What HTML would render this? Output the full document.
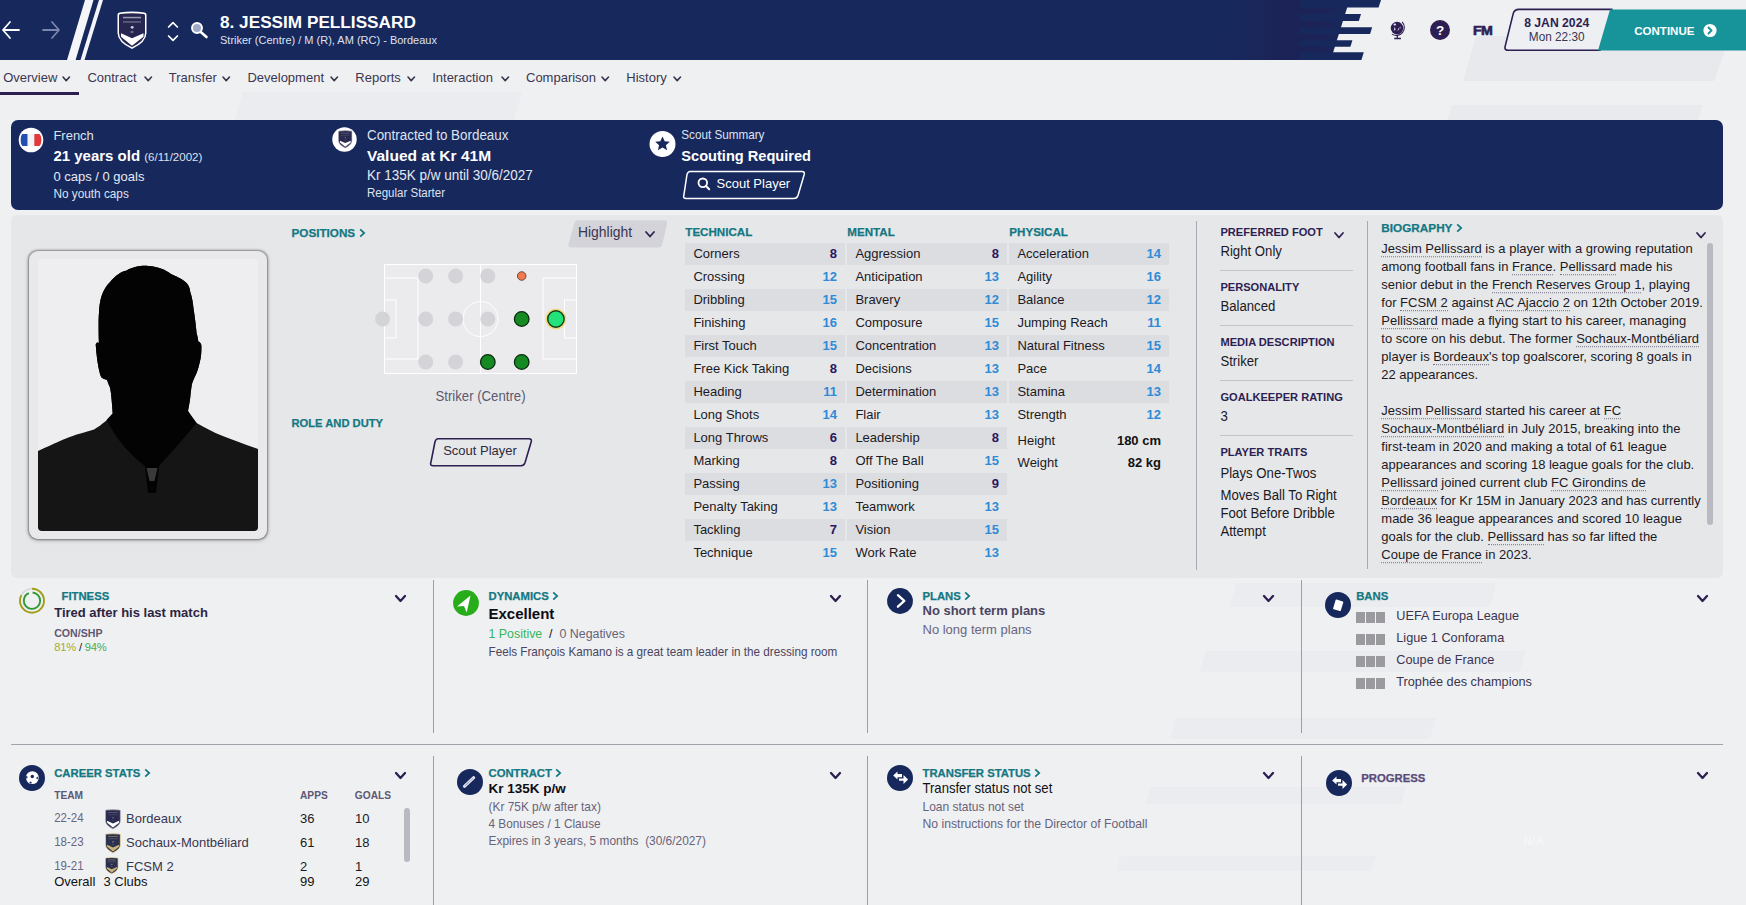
<!DOCTYPE html>
<html><head><meta charset="utf-8"><title>Player Overview</title><style>
*{margin:0;padding:0;box-sizing:border-box}
html,body{width:1746px;height:905px;overflow:hidden}
body{background:#eff0f2;font-family:"Liberation Sans",sans-serif;position:relative}
.t{position:absolute;white-space:nowrap;line-height:1}
.r{position:absolute}
.a{position:absolute;overflow:visible}
.u{border-bottom:1px dotted #77748a;}
</style></head>
<body>
<svg class="a" style="left:0px;top:0px;" width="1746" height="905" viewBox="0 0 1746 905"><polygon points="1476,36 1730,36 1714,81 1463,81" fill="#e8e9ec"/><polygon points="1452,105 1703,105 1698,120 1447,120" fill="#e9eaed"/><polygon points="243,92 522,92 514,120 235,120" fill="#ebecef"/><polygon points="1236,583 1496,583 1490,607 1230,607" fill="#ebecef"/><polygon points="1206,651 1526,651 1520,672 1200,672" fill="#ebecef"/><polygon points="1176,718 1436,718 1430,739 1170,739" fill="#ebecef"/><polygon points="1151,787 1406,787 1401,804 1146,804" fill="#ebecef"/><polygon points="1121,856 1376,856 1371,871 1116,871" fill="#ebecef"/></svg>
<svg class="a" style="left:0px;top:0px;" width="1746" height="60" viewBox="0 0 1746 60"><polygon points="0,0 1349.5,0 1330.6,60 0,60" fill="#17285c"/><defs><linearGradient id="hg" x1="0" x2="1" y1="0" y2="0"><stop offset="0" stop-color="#1b285d" stop-opacity="0"/><stop offset="0.45" stop-color="#1c2356" stop-opacity="0.9"/><stop offset="0.8" stop-color="#1c2356" stop-opacity="0.9"/><stop offset="1" stop-color="#1c2356" stop-opacity="0"/></linearGradient></defs><polygon points="1225,0 1349.5,0 1330.6,60 1215,60" fill="url(#hg)"/><polygon points="1300,0 1381,0 1378.6,7.5 1300,7.5" fill="#17285c"/><polygon points="1300,14 1361,14 1358.8,21 1300,21" fill="#17285c"/><polygon points="1300,27.2 1372.2,27.2 1370.1,34 1300,34" fill="#17285c"/><polygon points="1300,40.3 1352.4,40.3 1350.4,46.8 1300,46.8" fill="#17285c"/><polygon points="1300,52.3 1363.8,52.3 1361.4,60 1300,60" fill="#17285c"/><polygon points="85,0 93.5,0 75.6,60 67,60" fill="#f4f5f8"/><polygon points="99,0 103,0 84.5,60 80.5,60" fill="#f4f5f8"/></svg>
<svg class="a" style="left:0px;top:18px;" width="64" height="24" viewBox="0 0 64 24"><path d="M3,12 L19,12 M10,4 L3,12 L10,20" fill="none" stroke="#ffffff" stroke-width="1.8" stroke-linecap="round" stroke-linejoin="round"/><path d="M43,12 L59,12 M52,4 L59,12 L52,20" fill="none" stroke="#7c85ad" stroke-width="1.8" stroke-linecap="round" stroke-linejoin="round"/></svg>
<svg class="a" style="left:117px;top:11px;" width="31" height="40" viewBox="0 0 31 40"><g transform="scale(1.0)"><path d="M0.5,3.5 Q0.5,1.8 2.5,1.5 Q15,-0.4 27.5,1.5 Q29.5,1.8 29.5,3.5 L29.5,22 Q29.5,31 15,38 Q0.5,31 0.5,22 Z" fill="#ffffff"/><path d="M2,4.2 Q2,3.2 3.3,3 Q15,1.3 26.7,3 Q28,3.2 28,4.2 L28,22 Q28,30 15,36.3 Q2,30 2,22 Z" fill="#262650"/><rect x="6" y="5.8" width="18" height="1.5" fill="#ffffff" opacity="0.55"/><rect x="6" y="10.3" width="18" height="1.3" fill="#ffffff" opacity="0.35"/><circle cx="15.2" cy="16.3" r="1.4" fill="#ffffff" opacity="0.8"/><ellipse cx="15" cy="21" rx="1.8" ry="0.7" fill="#ffffff" opacity="0.5"/><path d="M4,22.3 L15,27.2 L26.5,22.3 L26.5,25.8 L15,34.8 L4,25.8 Z" fill="#ffffff"/></g></svg>
<svg class="a" style="left:165px;top:18px;" width="16" height="26" viewBox="0 0 16 26"><path d="M3.6,9 L8,4.6 L12.4,9 M3.6,18 L8,22.4 L12.4,18" fill="none" stroke="#ffffff" stroke-width="1.7" stroke-linecap="round" stroke-linejoin="round"/></svg>
<svg class="a" style="left:188px;top:19px;" width="24" height="24" viewBox="0 0 24 24"><circle cx="9" cy="9" r="5" fill="#a3a9c9" stroke="#ffffff" stroke-width="1.9"/><path d="M13,13.2 L18.5,18" stroke="#ffffff" stroke-width="2.6" stroke-linecap="round"/></svg>
<div class="t" style="left:220.0px;top:14.4px;font-size:17.2px;font-weight:700;color:#ffffff;">8. JESSIM PELLISSARD</div>
<div class="t" style="left:220.0px;top:34.6px;font-size:11px;font-weight:400;color:#dfe2f0;transform:scaleY(1.05);transform-origin:0 9.31px;">Striker (Centre) / M (R), AM (RC) - Bordeaux</div>
<svg class="a" style="left:1388px;top:19px;" width="20" height="22" viewBox="0 0 20 22"><circle cx="9" cy="9.1" r="6.3" fill="#2d1f52"/><ellipse cx="6.8" cy="5.5" rx="1.3" ry="1.1" fill="#e6e0f2"/><path d="M5.8,11.5 L6.8,7.8 L7.6,11 Z M9.5,12.3 L11.2,10 L10.4,9 Z M12,10.5 L12.6,7.6 L11.6,8.4 Z" fill="#e6e0f2"/><path d="M14.1,2.9 A8,8 0 0 1 3.9,15.1" stroke="#2d1f52" stroke-width="1.1" fill="none"/><path d="M9.3,16.6 L9.3,19.3 M6.2,19.5 L12.9,19.5" stroke="#2d1f52" stroke-width="1.3"/></svg>
<svg class="a" style="left:1429px;top:19px;" width="22" height="22" viewBox="0 0 22 22"><circle cx="11" cy="11" r="10" fill="#2d1f52"/></svg>
<div class="t" style="left:1040.0px;width:800px;text-align:center;top:23.6px;font-size:13.5px;font-weight:700;color:#ffffff;">?</div>
<div class="t" style="left:1472.6px;top:24.8px;font-size:12px;font-weight:700;color:#2d1f52;transform:scaleX(1.18);transform-origin:0 0;-webkit-text-stroke:0.6px #2d1f52;letter-spacing:-0.5px;">FM</div>
<svg class="a" style="left:1500px;top:8px;" width="246" height="44" viewBox="0 0 246 44"><path d="M19,1.4 L112,1.4 L100,42.3 L8.5,42.3 Q4.2,42.3 5.1,38.6 L13.2,5.6 Q14.3,1.4 19,1.4 Z" fill="#eeeff2" stroke="#2d1f52" stroke-width="1.6" stroke-linejoin="round"/><polygon points="110,1.4 246,1.4 246,42.4 98,42.4" fill="#17939a"/></svg>
<div class="t" style="left:1156.7px;width:800px;text-align:center;top:16.5px;font-size:12.2px;font-weight:700;color:#2d1f52;">8 JAN 2024</div>
<div class="t" style="left:1156.7px;width:800px;text-align:center;top:31.9px;font-size:11.8px;font-weight:400;color:#3a3550;transform:scaleY(1.05);transform-origin:0 9.99px;">Mon 22:30</div>
<div class="t" style="left:1634.3px;top:26.3px;font-size:11.5px;font-weight:700;color:#ffffff;">CONTINUE</div>
<svg class="a" style="left:1702px;top:23px;" width="16" height="16" viewBox="0 0 16 16"><circle cx="8" cy="7.5" r="6.6" fill="#ffffff"/><path d="M6.5,4.5 L9.5,7.5 L6.5,10.5" fill="none" stroke="#17939a" stroke-width="1.9" stroke-linecap="round" stroke-linejoin="round"/></svg>
<div class="t" style="left:3.2px;top:71.0px;font-size:13px;font-weight:400;color:#3b3650;transform:scaleY(1.05);transform-origin:0 11.00px;">Overview</div>
<svg class="a" style="left:61.0px;top:74.7px" width="10.5" height="7.6"><path d="M2,2 L5.2,5.6 L8.5,2" fill="none" stroke="#3b3650" stroke-width="1.6" stroke-linecap="round" stroke-linejoin="round"/></svg>
<div class="t" style="left:87.4px;top:71.0px;font-size:13px;font-weight:400;color:#3b3650;transform:scaleY(1.05);transform-origin:0 11.00px;">Contract</div>
<svg class="a" style="left:142.8px;top:74.7px" width="10.5" height="7.6"><path d="M2,2 L5.2,5.6 L8.5,2" fill="none" stroke="#3b3650" stroke-width="1.6" stroke-linecap="round" stroke-linejoin="round"/></svg>
<div class="t" style="left:168.8px;top:71.0px;font-size:13px;font-weight:400;color:#3b3650;transform:scaleY(1.05);transform-origin:0 11.00px;">Transfer</div>
<svg class="a" style="left:221.2px;top:74.7px" width="10.5" height="7.6"><path d="M2,2 L5.2,5.6 L8.5,2" fill="none" stroke="#3b3650" stroke-width="1.6" stroke-linecap="round" stroke-linejoin="round"/></svg>
<div class="t" style="left:247.4px;top:71.0px;font-size:13px;font-weight:400;color:#3b3650;transform:scaleY(1.05);transform-origin:0 11.00px;">Development</div>
<svg class="a" style="left:328.8px;top:74.7px" width="10.5" height="7.6"><path d="M2,2 L5.2,5.6 L8.5,2" fill="none" stroke="#3b3650" stroke-width="1.6" stroke-linecap="round" stroke-linejoin="round"/></svg>
<div class="t" style="left:355.3px;top:71.0px;font-size:13px;font-weight:400;color:#3b3650;transform:scaleY(1.05);transform-origin:0 11.00px;">Reports</div>
<svg class="a" style="left:405.8px;top:74.7px" width="10.5" height="7.6"><path d="M2,2 L5.2,5.6 L8.5,2" fill="none" stroke="#3b3650" stroke-width="1.6" stroke-linecap="round" stroke-linejoin="round"/></svg>
<div class="t" style="left:432.2px;top:71.0px;font-size:13px;font-weight:400;color:#3b3650;transform:scaleY(1.05);transform-origin:0 11.00px;">Interaction</div>
<svg class="a" style="left:500.4px;top:74.7px" width="10.5" height="7.6"><path d="M2,2 L5.2,5.6 L8.5,2" fill="none" stroke="#3b3650" stroke-width="1.6" stroke-linecap="round" stroke-linejoin="round"/></svg>
<div class="t" style="left:526.0px;top:71.0px;font-size:13px;font-weight:400;color:#3b3650;transform:scaleY(1.05);transform-origin:0 11.00px;">Comparison</div>
<svg class="a" style="left:600.2px;top:74.7px" width="10.5" height="7.6"><path d="M2,2 L5.2,5.6 L8.5,2" fill="none" stroke="#3b3650" stroke-width="1.6" stroke-linecap="round" stroke-linejoin="round"/></svg>
<div class="t" style="left:626.3px;top:71.0px;font-size:13px;font-weight:400;color:#3b3650;transform:scaleY(1.05);transform-origin:0 11.00px;">History</div>
<svg class="a" style="left:672.4px;top:74.7px" width="10.5" height="7.6"><path d="M2,2 L5.2,5.6 L8.5,2" fill="none" stroke="#3b3650" stroke-width="1.6" stroke-linecap="round" stroke-linejoin="round"/></svg>
<div class="r" style="left:0px;top:92px;width:79px;height:3px;background:#2d1f52;"></div>
<div class="r" style="left:11px;top:120px;width:1712px;height:90px;background:#17285c;border-radius:7px;"></div>
<svg class="a" style="left:18px;top:127px;" width="26" height="26" viewBox="0 0 26 26"><defs><clipPath id="fc"><circle cx="13" cy="13" r="10.6"/></clipPath></defs><circle cx="13" cy="13" r="12.3" fill="#ffffff"/><g clip-path="url(#fc)"><rect x="2.5" y="7" width="7.2" height="12" fill="#2250b0"/><rect x="9.7" y="7" width="6.6" height="12" fill="#f4f4f6"/><rect x="16.3" y="7" width="7.5" height="12" fill="#e23a3a"/></g></svg>
<div class="t" style="left:53.4px;top:129.2px;font-size:13px;font-weight:400;color:#dfe2f0;transform:scaleY(1.05);transform-origin:0 11.00px;">French</div>
<div class="t" style="left:53.4px;top:148.4px;font-size:15px;font-weight:700;color:#ffffff;">21 years old <span style="font-size:11.5px;font-weight:400;color:#dfe2f0">(6/11/2002)</span></div>
<div class="t" style="left:53.4px;top:170.0px;font-size:13px;font-weight:400;color:#e6e8f2;transform:scaleY(1.05);transform-origin:0 11.00px;">0 caps / 0 goals</div>
<div class="t" style="left:53.4px;top:189.4px;font-size:11.8px;font-weight:400;color:#dfe2f0;transform:scaleY(1.05);transform-origin:0 9.99px;">No youth caps</div>
<svg class="a" style="left:331px;top:126px;" width="28" height="28" viewBox="0 0 28 28"><circle cx="13.5" cy="13.5" r="12.2" fill="#ffffff"/></svg>
<svg class="a" style="left:337.8px;top:130.2px;" width="15" height="20" viewBox="0 0 15 20"><g transform="scale(0.48)"><path d="M0.5,3.5 Q0.5,1.8 2.5,1.5 Q15,-0.4 27.5,1.5 Q29.5,1.8 29.5,3.5 L29.5,22 Q29.5,31 15,38 Q0.5,31 0.5,22 Z" fill="#8d8d9c"/><path d="M2,4.2 Q2,3.2 3.3,3 Q15,1.3 26.7,3 Q28,3.2 28,4.2 L28,22 Q28,30 15,36.3 Q2,30 2,22 Z" fill="#2a2a50"/><rect x="6" y="5.8" width="18" height="1.5" fill="#8d8d9c" opacity="0.55"/><rect x="6" y="10.3" width="18" height="1.3" fill="#8d8d9c" opacity="0.35"/><circle cx="15.2" cy="16.3" r="1.4" fill="#8d8d9c" opacity="0.8"/><ellipse cx="15" cy="21" rx="1.8" ry="0.7" fill="#8d8d9c" opacity="0.5"/><path d="M4,22.3 L15,27.2 L26.5,22.3 L26.5,25.8 L15,34.8 L4,25.8 Z" fill="#ffffff"/></g></svg>
<div class="t" style="left:367.0px;top:128.7px;font-size:13.4px;font-weight:400;color:#dfe2f0;transform:scaleY(1.05);transform-origin:0 11.34px;">Contracted to Bordeaux</div>
<div class="t" style="left:367.0px;top:148.1px;font-size:15.5px;font-weight:700;color:#ffffff;">Valued at Kr 41M</div>
<div class="t" style="left:367.0px;top:168.9px;font-size:13.5px;font-weight:400;color:#e6e8f2;transform:scaleY(1.05);transform-origin:0 11.43px;">Kr 135K p/w until 30/6/2027</div>
<div class="t" style="left:367.0px;top:188.2px;font-size:11.5px;font-weight:400;color:#dfe2f0;transform:scaleY(1.05);transform-origin:0 9.73px;">Regular Starter</div>
<svg class="a" style="left:648px;top:130px;" width="29" height="29" viewBox="0 0 29 29"><circle cx="14.5" cy="14" r="13" fill="#ffffff"/><path d="M14.5,6.5 L16.7,11.3 L21.8,11.8 L17.9,15.2 L19.1,20.3 L14.5,17.6 L9.9,20.3 L11.1,15.2 L7.2,11.8 L12.3,11.3 Z" fill="#17285c"/></svg>
<div class="t" style="left:681.3px;top:129.2px;font-size:11.7px;font-weight:400;color:#dfe2f0;transform:scaleY(1.05);transform-origin:0 9.90px;">Scout Summary</div>
<div class="t" style="left:681.3px;top:149.0px;font-size:14.6px;font-weight:700;color:#ffffff;">Scouting Required</div>
<svg class="a" style="left:680px;top:169px;" width="128" height="32" viewBox="0 0 128 32"><path d="M10,2.5 L122,2.5 Q125,2.5 124.2,5.5 L118,26.5 Q117,29.5 114,29.5 L6,29.5 Q3,29.5 3.8,26.5 L7,5.5 Q8,2.5 10,2.5 Z" fill="none" stroke="#ffffff" stroke-width="1.5"/></svg>
<svg class="a" style="left:696px;top:176px;" width="16" height="16" viewBox="0 0 16 16"><circle cx="6.8" cy="6.8" r="4.3" fill="none" stroke="#ffffff" stroke-width="1.8"/><path d="M10,10 L13.2,13.2" stroke="#ffffff" stroke-width="2" stroke-linecap="round"/></svg>
<div class="t" style="left:716.5px;top:177.3px;font-size:13px;font-weight:400;color:#ffffff;transform:scaleY(1.05);transform-origin:0 11.00px;">Scout Player</div>
<div class="r" style="left:11px;top:215px;width:1712px;height:363px;background:#e6e7e9;border-radius:6px;"></div>
<div class="r" style="left:29px;top:251px;width:238px;height:288px;background:#e9e9eb;border-radius:9px;box-shadow:0 0 2px 0.5px rgba(0,0,0,0.35),0 1px 5px rgba(0,0,0,0.28);"></div>
<div class="r" style="left:38px;top:259px;width:220px;height:272px;background:#eeeef0;border-radius:4px;overflow:hidden;"></div>
<svg class="a" style="left:38px;top:259px;" width="220" height="272" viewBox="0 0 220 272"><defs><clipPath id="pc"><rect x="38" y="259" width="220" height="272" rx="4"/></clipPath></defs><g clip-path="url(#pc)" transform="translate(-38,-259)"><path d="M38,451 L39.6,450.3 C55,443 62,440 68.4,437.4 C80,433 90,431 94.1,429.4 C100,426 105,422 106.9,419.8 L112.7,413.4 C112,405 111.5,395 110.1,387.8 C108,383 107.5,381 106.9,379.8 C103,379 101,378 100,374 C97.5,365 96.5,355 95.7,344.5 C96.5,342 98,342 98.9,343 C98.5,330 98.5,318 98.9,314 C99.5,300 102,290 110.1,282 C115,276 122,271 126.1,270.8 C135,266 142,265.5 148.5,266 C158,266.5 166,270 171,274 C178,277 184,280 187,283.6 C189,286 190,289 190.2,291.7 C192,297 193,303 193.4,307.7 C195,318 196,326 196.6,333.3 C197.5,336 198,339 198.2,341.3 C200,342 201.5,344 201.4,346.1 C201.5,353 201,358 199.8,362.1 C198.5,368 197,373 195,376.6 C193.5,380 192.5,382 191.8,384.6 C191,390 190.5,395 190.2,398 C189.5,404 188.5,408 188,411 C191,416 193,420 196.6,423 C205,428 213,432 222.2,435.8 C233,440 244,444 258,449 L258,531 L38,531 Z" fill="#151516"/><path d="M106.9,419.8 C115,438 130,455 145,466 L148,493 L156,493 L159,466 C172,452 185,437 196.6,423 L188,411 L190.2,398 C190.5,395 191,390 191.8,384.6 C192.5,382 193.5,380 195,376.6 C197,373 198.5,368 199.8,362.1 C201,358 201.5,353 201.4,346.1 C201.5,344 200,342 198.2,341.3 C198,339 197.5,336 196.6,333.3 C196,326 195,318 193.4,307.7 C193,303 192,297 190.2,291.7 C190,289 189,286 187,283.6 C184,280 178,277 171,274 C166,270 158,266.5 148.5,266 C142,265.5 135,266 126.1,270.8 C122,271 115,276 110.1,282 C102,290 99.5,300 98.9,314 C98.5,318 98.5,330 98.9,343 C98,342 96.5,342 95.7,344.5 C96.5,355 97.5,365 100,374 C101,378 103,379 106.9,379.8 C107.5,381 108,383 110.1,387.8 C111.5,395 112,405 112.7,413.4 Z" fill="#030303"/><path d="M146.5,468 L157.5,468 L154.5,481 L149.5,481 Z" fill="#3a3a3c"/></g></svg>
<div class="t" style="left:291.5px;top:226.5px;font-size:11.7px;font-weight:700;color:#147883;-webkit-text-stroke:0.25px #147883;">POSITIONS<svg width="9" height="8" style="margin-left:3.5px;vertical-align:0;overflow:visible" viewBox="0 0 9 8"><path d="M1.2,0.4 L5.2,4 L1.2,7.6" fill="none" stroke="#147883" stroke-width="1.7" stroke-linejoin="miter"/></svg></div>
<svg class="a" style="left:566px;top:219px;" width="104" height="30" viewBox="0 0 104 30"><path d="M12.5,1.2 L98,1.2 Q101.8,1.2 101,4.8 L96.3,25 Q95.5,28.6 92,28.6 L5.5,28.6 Q1.7,28.6 2.5,25 L8.2,4.8 Q9,1.2 12.5,1.2 Z" fill="#d3d3d9"/></svg>
<div class="t" style="left:578.0px;top:225.6px;font-size:13.9px;font-weight:400;color:#3a3550;transform:scaleY(1.05);transform-origin:0 11.77px;">Highlight</div>
<svg class="a" style="left:644.0px;top:230.2px" width="12" height="8.5"><path d="M2,2 L6.0,6.5 L10,2" fill="none" stroke="#2d1f52" stroke-width="1.8" stroke-linecap="round" stroke-linejoin="round"/></svg>
<svg class="a" style="left:384px;top:264px;" width="193" height="110" viewBox="0 0 193 110"><rect x="0.5" y="0.5" width="192" height="109" fill="#ebebee" stroke="#ffffff" stroke-width="1"/><line x1="96.5" y1="0" x2="96.5" y2="110" stroke="#ffffff" stroke-width="1"/><circle cx="96.5" cy="55" r="17.5" fill="none" stroke="#ffffff" stroke-width="1"/><rect x="0.5" y="14" width="33.5" height="81" fill="none" stroke="#ffffff" stroke-width="1"/><rect x="0.5" y="36" width="11.5" height="38" fill="none" stroke="#ffffff" stroke-width="1"/><rect x="159" y="14" width="33.5" height="81" fill="none" stroke="#ffffff" stroke-width="1"/><rect x="180.5" y="36" width="12" height="38" fill="none" stroke="#ffffff" stroke-width="1"/></svg>
<svg class="a" style="left:370px;top:260px;" width="210" height="120" viewBox="0 0 210 120"><circle cx="55.69999999999999" cy="16" r="7.5" fill="#d3d3d8"/><circle cx="85.60000000000002" cy="16" r="7.5" fill="#d3d3d8"/><circle cx="117.80000000000001" cy="16" r="7.5" fill="#d3d3d8"/><circle cx="55.69999999999999" cy="59" r="7.5" fill="#d3d3d8"/><circle cx="85.60000000000002" cy="59" r="7.5" fill="#d3d3d8"/><circle cx="117.80000000000001" cy="59" r="7.5" fill="#d3d3d8"/><circle cx="55.69999999999999" cy="102" r="7.5" fill="#d3d3d8"/><circle cx="85.60000000000002" cy="102" r="7.5" fill="#d3d3d8"/><circle cx="12.600000000000023" cy="59" r="7.5" fill="#d3d3d8"/><circle cx="151.70000000000005" cy="16" r="4.3" fill="#ef7a4f" stroke="#5a3020" stroke-width="0.8"/><circle cx="151.70000000000005" cy="59" r="7.3" fill="#168a22" stroke="#0b2a10" stroke-width="1.3"/><circle cx="117.80000000000001" cy="102" r="7.3" fill="#168a22" stroke="#0b2a10" stroke-width="1.3"/><circle cx="151.70000000000005" cy="102" r="7.3" fill="#168a22" stroke="#0b2a10" stroke-width="1.3"/><circle cx="185.89999999999998" cy="59" r="10.5" fill="#f1d76a" opacity="0.85"/><circle cx="185.89999999999998" cy="59" r="8.2" fill="#23e27a" stroke="#123a1c" stroke-width="1.4"/></svg>
<div class="t" style="left:80.5px;width:800px;text-align:center;top:389.8px;font-size:13.2px;font-weight:400;color:#5d5970;transform:scaleY(1.05);transform-origin:0 11.17px;">Striker (Centre)</div>
<div class="t" style="left:291.5px;top:417.5px;font-size:11.2px;font-weight:700;color:#147883;-webkit-text-stroke:0.25px #147883;">ROLE AND DUTY</div>
<svg class="a" style="left:428px;top:437px;" width="106" height="31" viewBox="0 0 106 31"><path d="M10,1.8 L101,1.8 Q104,1.8 103.2,4.8 L97,25.8 Q96,28.8 93,28.8 L5,28.8 Q2,28.8 2.8,25.8 L7,4.8 Q8,1.8 10,1.8 Z" fill="none" stroke="#2d1f52" stroke-width="1.6"/></svg>
<div class="t" style="left:443.2px;top:444.0px;font-size:13px;font-weight:400;color:#2d2a3f;transform:scaleY(1.05);transform-origin:0 11.00px;">Scout Player</div>
<div class="t" style="left:685.3px;top:226.1px;font-size:11.6px;font-weight:700;color:#147883;-webkit-text-stroke:0.25px #147883;">TECHNICAL</div>
<div class="r" style="left:685px;top:243.0px;width:160px;height:21.5px;background:#dcdde1;"></div>
<div class="t" style="left:693.4px;top:247.0px;font-size:13px;font-weight:400;color:#1b1924;transform:scaleY(1.05);transform-origin:0 11.00px;">Corners</div>
<div class="t" style="right:909.0px;top:247.0px;font-size:13px;font-weight:700;color:#2a1660;">8</div>
<div class="t" style="left:693.4px;top:270.0px;font-size:13px;font-weight:400;color:#1b1924;transform:scaleY(1.05);transform-origin:0 11.00px;">Crossing</div>
<div class="t" style="right:909.0px;top:270.0px;font-size:13px;font-weight:700;color:#2f8bd6;">12</div>
<div class="r" style="left:685px;top:289.0px;width:160px;height:21.5px;background:#dcdde1;"></div>
<div class="t" style="left:693.4px;top:293.0px;font-size:13px;font-weight:400;color:#1b1924;transform:scaleY(1.05);transform-origin:0 11.00px;">Dribbling</div>
<div class="t" style="right:909.0px;top:293.0px;font-size:13px;font-weight:700;color:#2f8bd6;">15</div>
<div class="t" style="left:693.4px;top:316.0px;font-size:13px;font-weight:400;color:#1b1924;transform:scaleY(1.05);transform-origin:0 11.00px;">Finishing</div>
<div class="t" style="right:909.0px;top:316.0px;font-size:13px;font-weight:700;color:#2f8bd6;">16</div>
<div class="r" style="left:685px;top:335.0px;width:160px;height:21.5px;background:#dcdde1;"></div>
<div class="t" style="left:693.4px;top:339.0px;font-size:13px;font-weight:400;color:#1b1924;transform:scaleY(1.05);transform-origin:0 11.00px;">First Touch</div>
<div class="t" style="right:909.0px;top:339.0px;font-size:13px;font-weight:700;color:#2f8bd6;">15</div>
<div class="t" style="left:693.4px;top:362.0px;font-size:13px;font-weight:400;color:#1b1924;transform:scaleY(1.05);transform-origin:0 11.00px;">Free Kick Taking</div>
<div class="t" style="right:909.0px;top:362.0px;font-size:13px;font-weight:700;color:#2a1660;">8</div>
<div class="r" style="left:685px;top:381.0px;width:160px;height:21.5px;background:#dcdde1;"></div>
<div class="t" style="left:693.4px;top:385.0px;font-size:13px;font-weight:400;color:#1b1924;transform:scaleY(1.05);transform-origin:0 11.00px;">Heading</div>
<div class="t" style="right:909.0px;top:385.0px;font-size:13px;font-weight:700;color:#2f8bd6;">11</div>
<div class="t" style="left:693.4px;top:408.0px;font-size:13px;font-weight:400;color:#1b1924;transform:scaleY(1.05);transform-origin:0 11.00px;">Long Shots</div>
<div class="t" style="right:909.0px;top:408.0px;font-size:13px;font-weight:700;color:#2f8bd6;">14</div>
<div class="r" style="left:685px;top:427.0px;width:160px;height:21.5px;background:#dcdde1;"></div>
<div class="t" style="left:693.4px;top:431.0px;font-size:13px;font-weight:400;color:#1b1924;transform:scaleY(1.05);transform-origin:0 11.00px;">Long Throws</div>
<div class="t" style="right:909.0px;top:431.0px;font-size:13px;font-weight:700;color:#2a1660;">6</div>
<div class="t" style="left:693.4px;top:454.0px;font-size:13px;font-weight:400;color:#1b1924;transform:scaleY(1.05);transform-origin:0 11.00px;">Marking</div>
<div class="t" style="right:909.0px;top:454.0px;font-size:13px;font-weight:700;color:#2a1660;">8</div>
<div class="r" style="left:685px;top:473.0px;width:160px;height:21.5px;background:#dcdde1;"></div>
<div class="t" style="left:693.4px;top:477.0px;font-size:13px;font-weight:400;color:#1b1924;transform:scaleY(1.05);transform-origin:0 11.00px;">Passing</div>
<div class="t" style="right:909.0px;top:477.0px;font-size:13px;font-weight:700;color:#2f8bd6;">13</div>
<div class="t" style="left:693.4px;top:500.0px;font-size:13px;font-weight:400;color:#1b1924;transform:scaleY(1.05);transform-origin:0 11.00px;">Penalty Taking</div>
<div class="t" style="right:909.0px;top:500.0px;font-size:13px;font-weight:700;color:#2f8bd6;">13</div>
<div class="r" style="left:685px;top:519.0px;width:160px;height:21.5px;background:#dcdde1;"></div>
<div class="t" style="left:693.4px;top:523.0px;font-size:13px;font-weight:400;color:#1b1924;transform:scaleY(1.05);transform-origin:0 11.00px;">Tackling</div>
<div class="t" style="right:909.0px;top:523.0px;font-size:13px;font-weight:700;color:#2a1660;">7</div>
<div class="t" style="left:693.4px;top:546.0px;font-size:13px;font-weight:400;color:#1b1924;transform:scaleY(1.05);transform-origin:0 11.00px;">Technique</div>
<div class="t" style="right:909.0px;top:546.0px;font-size:13px;font-weight:700;color:#2f8bd6;">15</div>
<div class="t" style="left:847.3px;top:226.1px;font-size:11.6px;font-weight:700;color:#147883;-webkit-text-stroke:0.25px #147883;">MENTAL</div>
<div class="r" style="left:847px;top:243.0px;width:160px;height:21.5px;background:#dcdde1;"></div>
<div class="t" style="left:855.4px;top:247.0px;font-size:13px;font-weight:400;color:#1b1924;transform:scaleY(1.05);transform-origin:0 11.00px;">Aggression</div>
<div class="t" style="right:747.0px;top:247.0px;font-size:13px;font-weight:700;color:#2a1660;">8</div>
<div class="t" style="left:855.4px;top:270.0px;font-size:13px;font-weight:400;color:#1b1924;transform:scaleY(1.05);transform-origin:0 11.00px;">Anticipation</div>
<div class="t" style="right:747.0px;top:270.0px;font-size:13px;font-weight:700;color:#2f8bd6;">13</div>
<div class="r" style="left:847px;top:289.0px;width:160px;height:21.5px;background:#dcdde1;"></div>
<div class="t" style="left:855.4px;top:293.0px;font-size:13px;font-weight:400;color:#1b1924;transform:scaleY(1.05);transform-origin:0 11.00px;">Bravery</div>
<div class="t" style="right:747.0px;top:293.0px;font-size:13px;font-weight:700;color:#2f8bd6;">12</div>
<div class="t" style="left:855.4px;top:316.0px;font-size:13px;font-weight:400;color:#1b1924;transform:scaleY(1.05);transform-origin:0 11.00px;">Composure</div>
<div class="t" style="right:747.0px;top:316.0px;font-size:13px;font-weight:700;color:#2f8bd6;">15</div>
<div class="r" style="left:847px;top:335.0px;width:160px;height:21.5px;background:#dcdde1;"></div>
<div class="t" style="left:855.4px;top:339.0px;font-size:13px;font-weight:400;color:#1b1924;transform:scaleY(1.05);transform-origin:0 11.00px;">Concentration</div>
<div class="t" style="right:747.0px;top:339.0px;font-size:13px;font-weight:700;color:#2f8bd6;">13</div>
<div class="t" style="left:855.4px;top:362.0px;font-size:13px;font-weight:400;color:#1b1924;transform:scaleY(1.05);transform-origin:0 11.00px;">Decisions</div>
<div class="t" style="right:747.0px;top:362.0px;font-size:13px;font-weight:700;color:#2f8bd6;">13</div>
<div class="r" style="left:847px;top:381.0px;width:160px;height:21.5px;background:#dcdde1;"></div>
<div class="t" style="left:855.4px;top:385.0px;font-size:13px;font-weight:400;color:#1b1924;transform:scaleY(1.05);transform-origin:0 11.00px;">Determination</div>
<div class="t" style="right:747.0px;top:385.0px;font-size:13px;font-weight:700;color:#2f8bd6;">13</div>
<div class="t" style="left:855.4px;top:408.0px;font-size:13px;font-weight:400;color:#1b1924;transform:scaleY(1.05);transform-origin:0 11.00px;">Flair</div>
<div class="t" style="right:747.0px;top:408.0px;font-size:13px;font-weight:700;color:#2f8bd6;">13</div>
<div class="r" style="left:847px;top:427.0px;width:160px;height:21.5px;background:#dcdde1;"></div>
<div class="t" style="left:855.4px;top:431.0px;font-size:13px;font-weight:400;color:#1b1924;transform:scaleY(1.05);transform-origin:0 11.00px;">Leadership</div>
<div class="t" style="right:747.0px;top:431.0px;font-size:13px;font-weight:700;color:#2a1660;">8</div>
<div class="t" style="left:855.4px;top:454.0px;font-size:13px;font-weight:400;color:#1b1924;transform:scaleY(1.05);transform-origin:0 11.00px;">Off The Ball</div>
<div class="t" style="right:747.0px;top:454.0px;font-size:13px;font-weight:700;color:#2f8bd6;">15</div>
<div class="r" style="left:847px;top:473.0px;width:160px;height:21.5px;background:#dcdde1;"></div>
<div class="t" style="left:855.4px;top:477.0px;font-size:13px;font-weight:400;color:#1b1924;transform:scaleY(1.05);transform-origin:0 11.00px;">Positioning</div>
<div class="t" style="right:747.0px;top:477.0px;font-size:13px;font-weight:700;color:#2a1660;">9</div>
<div class="t" style="left:855.4px;top:500.0px;font-size:13px;font-weight:400;color:#1b1924;transform:scaleY(1.05);transform-origin:0 11.00px;">Teamwork</div>
<div class="t" style="right:747.0px;top:500.0px;font-size:13px;font-weight:700;color:#2f8bd6;">13</div>
<div class="r" style="left:847px;top:519.0px;width:160px;height:21.5px;background:#dcdde1;"></div>
<div class="t" style="left:855.4px;top:523.0px;font-size:13px;font-weight:400;color:#1b1924;transform:scaleY(1.05);transform-origin:0 11.00px;">Vision</div>
<div class="t" style="right:747.0px;top:523.0px;font-size:13px;font-weight:700;color:#2f8bd6;">15</div>
<div class="t" style="left:855.4px;top:546.0px;font-size:13px;font-weight:400;color:#1b1924;transform:scaleY(1.05);transform-origin:0 11.00px;">Work Rate</div>
<div class="t" style="right:747.0px;top:546.0px;font-size:13px;font-weight:700;color:#2f8bd6;">13</div>
<div class="t" style="left:1009.3px;top:226.1px;font-size:11.6px;font-weight:700;color:#147883;-webkit-text-stroke:0.25px #147883;">PHYSICAL</div>
<div class="r" style="left:1009px;top:243.0px;width:160px;height:21.5px;background:#dcdde1;"></div>
<div class="t" style="left:1017.4px;top:247.0px;font-size:13px;font-weight:400;color:#1b1924;transform:scaleY(1.05);transform-origin:0 11.00px;">Acceleration</div>
<div class="t" style="right:585.0px;top:247.0px;font-size:13px;font-weight:700;color:#2f8bd6;">14</div>
<div class="t" style="left:1017.4px;top:270.0px;font-size:13px;font-weight:400;color:#1b1924;transform:scaleY(1.05);transform-origin:0 11.00px;">Agility</div>
<div class="t" style="right:585.0px;top:270.0px;font-size:13px;font-weight:700;color:#2f8bd6;">16</div>
<div class="r" style="left:1009px;top:289.0px;width:160px;height:21.5px;background:#dcdde1;"></div>
<div class="t" style="left:1017.4px;top:293.0px;font-size:13px;font-weight:400;color:#1b1924;transform:scaleY(1.05);transform-origin:0 11.00px;">Balance</div>
<div class="t" style="right:585.0px;top:293.0px;font-size:13px;font-weight:700;color:#2f8bd6;">12</div>
<div class="t" style="left:1017.4px;top:316.0px;font-size:13px;font-weight:400;color:#1b1924;transform:scaleY(1.05);transform-origin:0 11.00px;">Jumping Reach</div>
<div class="t" style="right:585.0px;top:316.0px;font-size:13px;font-weight:700;color:#2f8bd6;">11</div>
<div class="r" style="left:1009px;top:335.0px;width:160px;height:21.5px;background:#dcdde1;"></div>
<div class="t" style="left:1017.4px;top:339.0px;font-size:13px;font-weight:400;color:#1b1924;transform:scaleY(1.05);transform-origin:0 11.00px;">Natural Fitness</div>
<div class="t" style="right:585.0px;top:339.0px;font-size:13px;font-weight:700;color:#2f8bd6;">15</div>
<div class="t" style="left:1017.4px;top:362.0px;font-size:13px;font-weight:400;color:#1b1924;transform:scaleY(1.05);transform-origin:0 11.00px;">Pace</div>
<div class="t" style="right:585.0px;top:362.0px;font-size:13px;font-weight:700;color:#2f8bd6;">14</div>
<div class="r" style="left:1009px;top:381.0px;width:160px;height:21.5px;background:#dcdde1;"></div>
<div class="t" style="left:1017.4px;top:385.0px;font-size:13px;font-weight:400;color:#1b1924;transform:scaleY(1.05);transform-origin:0 11.00px;">Stamina</div>
<div class="t" style="right:585.0px;top:385.0px;font-size:13px;font-weight:700;color:#2f8bd6;">13</div>
<div class="t" style="left:1017.4px;top:408.0px;font-size:13px;font-weight:400;color:#1b1924;transform:scaleY(1.05);transform-origin:0 11.00px;">Strength</div>
<div class="t" style="right:585.0px;top:408.0px;font-size:13px;font-weight:700;color:#2f8bd6;">12</div>
<div class="t" style="left:1017.6px;top:433.8px;font-size:13px;font-weight:400;color:#1b1924;transform:scaleY(1.05);transform-origin:0 11.00px;">Height</div>
<div class="t" style="right:585.0px;top:433.8px;font-size:13px;font-weight:700;color:#111111;">180 cm</div>
<div class="t" style="left:1017.6px;top:455.8px;font-size:13px;font-weight:400;color:#1b1924;transform:scaleY(1.05);transform-origin:0 11.00px;">Weight</div>
<div class="t" style="right:585.0px;top:455.8px;font-size:13px;font-weight:700;color:#111111;">82 kg</div>
<div class="r" style="left:1196px;top:221px;width:1px;height:349px;background:#a9a9b3;"></div>
<div class="r" style="left:1367px;top:221px;width:1px;height:348px;background:#a9a9b3;"></div>
<div class="t" style="left:1220.4px;top:226.6px;font-size:11.1px;font-weight:700;color:#2d1f52;">PREFERRED FOOT</div>
<div class="t" style="left:1220.4px;top:244.8px;font-size:13.2px;font-weight:400;color:#1b1924;transform:scaleY(1.05);transform-origin:0 11.17px;">Right Only</div>
<div class="r" style="left:1220px;top:270px;width:133px;height:1px;background:#c3c3cb;"></div>
<div class="t" style="left:1220.4px;top:281.6px;font-size:11.1px;font-weight:700;color:#2d1f52;">PERSONALITY</div>
<div class="t" style="left:1220.4px;top:299.8px;font-size:13.2px;font-weight:400;color:#1b1924;transform:scaleY(1.05);transform-origin:0 11.17px;">Balanced</div>
<div class="r" style="left:1220px;top:325px;width:133px;height:1px;background:#c3c3cb;"></div>
<div class="t" style="left:1220.4px;top:336.6px;font-size:11.1px;font-weight:700;color:#2d1f52;">MEDIA DESCRIPTION</div>
<div class="t" style="left:1220.4px;top:354.8px;font-size:13.2px;font-weight:400;color:#1b1924;transform:scaleY(1.05);transform-origin:0 11.17px;">Striker</div>
<div class="r" style="left:1220px;top:380px;width:133px;height:1px;background:#c3c3cb;"></div>
<div class="t" style="left:1220.4px;top:391.6px;font-size:11.1px;font-weight:700;color:#2d1f52;">GOALKEEPER RATING</div>
<div class="t" style="left:1220.4px;top:409.8px;font-size:13.2px;font-weight:400;color:#1b1924;transform:scaleY(1.05);transform-origin:0 11.17px;">3</div>
<div class="r" style="left:1220px;top:435px;width:133px;height:1px;background:#c3c3cb;"></div>
<svg class="a" style="left:1333.0px;top:231.2px" width="12" height="8.5"><path d="M2,2 L6.0,6.5 L10,2" fill="none" stroke="#2d1f52" stroke-width="1.8" stroke-linecap="round" stroke-linejoin="round"/></svg>
<div class="t" style="left:1220.4px;top:446.6px;font-size:11.1px;font-weight:700;color:#2d1f52;">PLAYER TRAITS</div>
<div class="t" style="left:1220.4px;top:467.4px;font-size:13.2px;font-weight:400;color:#1b1924;transform:scaleY(1.05);transform-origin:0 11.17px;">Plays One-Twos</div>
<div class="t" style="left:1220.4px;top:489.3px;font-size:13.2px;font-weight:400;color:#1b1924;transform:scaleY(1.05);transform-origin:0 11.17px;">Moves Ball To Right</div>
<div class="t" style="left:1220.4px;top:507.3px;font-size:13.2px;font-weight:400;color:#1b1924;transform:scaleY(1.05);transform-origin:0 11.17px;">Foot Before Dribble</div>
<div class="t" style="left:1220.4px;top:525.3px;font-size:13.2px;font-weight:400;color:#1b1924;transform:scaleY(1.05);transform-origin:0 11.17px;">Attempt</div>
<div class="t" style="left:1381.3px;top:221.6px;font-size:11.75px;font-weight:700;color:#147883;-webkit-text-stroke:0.25px #147883;">BIOGRAPHY<svg width="9" height="8" style="margin-left:3.5px;vertical-align:0;overflow:visible" viewBox="0 0 9 8"><path d="M1.2,0.4 L5.2,4 L1.2,7.6" fill="none" stroke="#147883" stroke-width="1.7" stroke-linejoin="miter"/></svg></div>
<svg class="a" style="left:1695.0px;top:231.3px" width="12" height="8.5"><path d="M2,2 L6.0,6.5 L10,2" fill="none" stroke="#2d1f52" stroke-width="1.8" stroke-linecap="round" stroke-linejoin="round"/></svg>
<div class="r" style="left:1707px;top:243px;width:6px;height:282px;background:#b9b9c2;border-radius:3px;"></div>
<div class="t" style="left:1381.3px;top:242.1px;font-size:13px;font-weight:400;color:#1b1924;transform:scaleY(1.05);transform-origin:0 11.00px;"><span class="u">Jessim Pellissard</span> is a player with a growing reputation</div>
<div class="t" style="left:1381.3px;top:260.1px;font-size:13px;font-weight:400;color:#1b1924;transform:scaleY(1.05);transform-origin:0 11.00px;">among football fans in <span class="u">France</span>. <span class="u">Pellissard</span> made his</div>
<div class="t" style="left:1381.3px;top:278.1px;font-size:13px;font-weight:400;color:#1b1924;transform:scaleY(1.05);transform-origin:0 11.00px;">senior debut in the <span class="u">French Reserves Group 1</span>, playing</div>
<div class="t" style="left:1381.3px;top:296.1px;font-size:13px;font-weight:400;color:#1b1924;transform:scaleY(1.05);transform-origin:0 11.00px;">for <span class="u">FCSM 2</span> against <span class="u">AC Ajaccio 2</span> on 12th October 2019.</div>
<div class="t" style="left:1381.3px;top:314.1px;font-size:13px;font-weight:400;color:#1b1924;transform:scaleY(1.05);transform-origin:0 11.00px;"><span class="u">Pellissard</span> made a flying start to his career, managing</div>
<div class="t" style="left:1381.3px;top:332.1px;font-size:13px;font-weight:400;color:#1b1924;transform:scaleY(1.05);transform-origin:0 11.00px;">to score on his debut. The former <span class="u">Sochaux-Montbéliard</span></div>
<div class="t" style="left:1381.3px;top:350.1px;font-size:13px;font-weight:400;color:#1b1924;transform:scaleY(1.05);transform-origin:0 11.00px;">player is <span class="u">Bordeaux</span>'s top goalscorer, scoring 8 goals in</div>
<div class="t" style="left:1381.3px;top:368.1px;font-size:13px;font-weight:400;color:#1b1924;transform:scaleY(1.05);transform-origin:0 11.00px;">22 appearances.</div>
<div class="t" style="left:1381.3px;top:404.1px;font-size:13px;font-weight:400;color:#1b1924;transform:scaleY(1.05);transform-origin:0 11.00px;"><span class="u">Jessim Pellissard</span> started his career at <span class="u">FC</span></div>
<div class="t" style="left:1381.3px;top:422.1px;font-size:13px;font-weight:400;color:#1b1924;transform:scaleY(1.05);transform-origin:0 11.00px;"><span class="u">Sochaux-Montbéliard</span> in July 2015, breaking into the</div>
<div class="t" style="left:1381.3px;top:440.1px;font-size:13px;font-weight:400;color:#1b1924;transform:scaleY(1.05);transform-origin:0 11.00px;">first-team in 2020 and making a total of 61 league</div>
<div class="t" style="left:1381.3px;top:458.1px;font-size:13px;font-weight:400;color:#1b1924;transform:scaleY(1.05);transform-origin:0 11.00px;">appearances and scoring 18 league goals for the club.</div>
<div class="t" style="left:1381.3px;top:476.1px;font-size:13px;font-weight:400;color:#1b1924;transform:scaleY(1.05);transform-origin:0 11.00px;"><span class="u">Pellissard</span> joined current club <span class="u">FC Girondins de</span></div>
<div class="t" style="left:1381.3px;top:494.1px;font-size:13px;font-weight:400;color:#1b1924;transform:scaleY(1.05);transform-origin:0 11.00px;"><span class="u">Bordeaux</span> for Kr 15M in January 2023 and has currently</div>
<div class="t" style="left:1381.3px;top:512.1px;font-size:13px;font-weight:400;color:#1b1924;transform:scaleY(1.05);transform-origin:0 11.00px;">made 36 league appearances and scored 10 league</div>
<div class="t" style="left:1381.3px;top:530.1px;font-size:13px;font-weight:400;color:#1b1924;transform:scaleY(1.05);transform-origin:0 11.00px;">goals for the club. <span class="u">Pellissard</span> has so far lifted the</div>
<div class="t" style="left:1381.3px;top:548.1px;font-size:13px;font-weight:400;color:#1b1924;transform:scaleY(1.05);transform-origin:0 11.00px;"><span class="u">Coupe de France</span> in 2023.</div>
<div class="r" style="left:433px;top:580px;width:1px;height:153px;background:#9d9da6;"></div>
<div class="r" style="left:867px;top:580px;width:1px;height:153px;background:#9d9da6;"></div>
<div class="r" style="left:1301px;top:580px;width:1px;height:153px;background:#9d9da6;"></div>
<div class="r" style="left:11px;top:744px;width:1712px;height:1px;background:#a3a3ab;"></div>
<div class="r" style="left:433px;top:756px;width:1px;height:149px;background:#9d9da6;"></div>
<div class="r" style="left:867px;top:756px;width:1px;height:149px;background:#9d9da6;"></div>
<div class="r" style="left:1301px;top:756px;width:1px;height:149px;background:#9d9da6;"></div>
<svg class="a" style="left:17px;top:586px;" width="30" height="30" viewBox="0 0 30 30"><circle cx="15" cy="14.7" r="12" fill="none" stroke="#d9d9dd" stroke-width="1.8"/><circle cx="15" cy="14.7" r="12" fill="none" stroke="#a39f1a" stroke-width="1.9" stroke-dasharray="62 13.4" transform="rotate(-90 15 14.7)"/><circle cx="15" cy="14.7" r="8.2" fill="none" stroke="#2f9a35" stroke-width="1.9" stroke-dasharray="47.5 4" transform="rotate(-86 15 14.7)"/></svg>
<div class="t" style="left:61.5px;top:591.1px;font-size:11.3px;font-weight:700;color:#147883;-webkit-text-stroke:0.25px #147883;">FITNESS</div>
<div class="t" style="left:54.2px;top:605.6px;font-size:13px;font-weight:700;color:#2d2540;">Tired after his last match</div>
<div class="t" style="left:54.2px;top:627.8px;font-size:10.6px;font-weight:700;color:#5d5873;">CON/SHP</div>
<div class="t" style="left:54.2px;top:642.4px;font-size:11.2px;font-weight:400;color:#111;transform:scaleY(1.05);transform-origin:0 9.48px;letter-spacing:-0.2px;"><span style="color:#a7ad33">81%</span><span style="color:#111"> / </span><span style="color:#4aab50">94%</span></div>
<svg class="a" style="left:394.2px;top:593.5px" width="13" height="9"><path d="M2,2 L6.5,7 L11,2" fill="none" stroke="#2d1f52" stroke-width="2.3" stroke-linecap="round" stroke-linejoin="round"/></svg>
<svg class="a" style="left:452px;top:589px;" width="28" height="28" viewBox="0 0 28 28"><circle cx="14" cy="14" r="12.9" fill="#27ad1a"/><path d="M18.5,6.6 L5,17.5 L12,17 L14.7,23.5 Z" fill="#ffffff"/></svg>
<div class="t" style="left:488.5px;top:591.1px;font-size:11.3px;font-weight:700;color:#147883;-webkit-text-stroke:0.25px #147883;">DYNAMICS<svg width="9" height="8" style="margin-left:3.5px;vertical-align:0;overflow:visible" viewBox="0 0 9 8"><path d="M1.2,0.4 L5.2,4 L1.2,7.6" fill="none" stroke="#147883" stroke-width="1.7" stroke-linejoin="miter"/></svg></div>
<div class="t" style="left:488.5px;top:606.3px;font-size:15px;font-weight:700;color:#0d0d12;">Excellent</div>
<div class="t" style="left:488.5px;top:627.5px;font-size:12.4px;font-weight:400;color:#111;transform:scaleY(1.05);transform-origin:0 10.50px;"><span style="color:#37b55c">1 Positive</span><span style="color:#111">&nbsp; /&nbsp; </span><span style="color:#67637a">0 Negatives</span></div>
<div class="t" style="left:488.5px;top:645.7px;font-size:11.7px;font-weight:400;color:#4a4560;transform:scaleY(1.05);transform-origin:0 9.90px;">Feels François Kamano is a great team leader in the dressing room</div>
<svg class="a" style="left:828.5px;top:593.5px" width="13" height="9"><path d="M2,2 L6.5,7 L11,2" fill="none" stroke="#2d1f52" stroke-width="2.3" stroke-linecap="round" stroke-linejoin="round"/></svg>
<svg class="a" style="left:886px;top:587px;" width="28" height="28" viewBox="0 0 28 28"><circle cx="14" cy="14" r="12.9" fill="#17285c"/><path d="M11.9,8.2 L18.3,13.9 L11.9,19.7" fill="none" stroke="#ffffff" stroke-width="2.3" stroke-linecap="round" stroke-linejoin="round"/></svg>
<div class="t" style="left:922.5px;top:591.1px;font-size:11.3px;font-weight:700;color:#147883;-webkit-text-stroke:0.25px #147883;">PLANS<svg width="9" height="8" style="margin-left:3.5px;vertical-align:0;overflow:visible" viewBox="0 0 9 8"><path d="M1.2,0.4 L5.2,4 L1.2,7.6" fill="none" stroke="#147883" stroke-width="1.7" stroke-linejoin="miter"/></svg></div>
<div class="t" style="left:922.5px;top:604.3px;font-size:13px;font-weight:700;color:#4b4560;">No short term plans</div>
<div class="t" style="left:922.5px;top:623.2px;font-size:13px;font-weight:400;color:#6a6580;transform:scaleY(1.05);transform-origin:0 11.00px;">No long term plans</div>
<svg class="a" style="left:1262.2px;top:593.5px" width="13" height="9"><path d="M2,2 L6.5,7 L11,2" fill="none" stroke="#2d1f52" stroke-width="2.3" stroke-linecap="round" stroke-linejoin="round"/></svg>
<svg class="a" style="left:1324px;top:591px;" width="28" height="28" viewBox="0 0 28 28"><circle cx="14" cy="14" r="13" fill="#17285c"/><rect x="10.3" y="9.3" width="8" height="10" rx="0.8" fill="#ffffff" transform="rotate(17 14.3 14)"/></svg>
<div class="t" style="left:1356.2px;top:591.1px;font-size:11.3px;font-weight:700;color:#147883;-webkit-text-stroke:0.25px #147883;">BANS</div>
<div class="r" style="left:1356px;top:612px;width:9px;height:11px;background:#9b9b9f;"></div>
<div class="r" style="left:1366px;top:612px;width:9px;height:11px;background:#9b9b9f;"></div>
<div class="r" style="left:1376px;top:612px;width:9px;height:11px;background:#9b9b9f;"></div>
<div class="t" style="left:1396.3px;top:610.2px;font-size:12.7px;font-weight:400;color:#3a3550;transform:scaleY(1.05);transform-origin:0 10.75px;">UEFA Europa League</div>
<div class="r" style="left:1356px;top:634px;width:9px;height:11px;background:#9b9b9f;"></div>
<div class="r" style="left:1366px;top:634px;width:9px;height:11px;background:#9b9b9f;"></div>
<div class="r" style="left:1376px;top:634px;width:9px;height:11px;background:#9b9b9f;"></div>
<div class="t" style="left:1396.3px;top:632.2px;font-size:12.7px;font-weight:400;color:#3a3550;transform:scaleY(1.05);transform-origin:0 10.75px;">Ligue 1 Conforama</div>
<div class="r" style="left:1356px;top:656px;width:9px;height:11px;background:#9b9b9f;"></div>
<div class="r" style="left:1366px;top:656px;width:9px;height:11px;background:#9b9b9f;"></div>
<div class="r" style="left:1376px;top:656px;width:9px;height:11px;background:#9b9b9f;"></div>
<div class="t" style="left:1396.3px;top:654.2px;font-size:12.7px;font-weight:400;color:#3a3550;transform:scaleY(1.05);transform-origin:0 10.75px;">Coupe de France</div>
<div class="r" style="left:1356px;top:678px;width:9px;height:11px;background:#9b9b9f;"></div>
<div class="r" style="left:1366px;top:678px;width:9px;height:11px;background:#9b9b9f;"></div>
<div class="r" style="left:1376px;top:678px;width:9px;height:11px;background:#9b9b9f;"></div>
<div class="t" style="left:1396.3px;top:676.2px;font-size:12.7px;font-weight:400;color:#3a3550;transform:scaleY(1.05);transform-origin:0 10.75px;">Trophée des champions</div>
<svg class="a" style="left:1696.3px;top:593.5px" width="13" height="9"><path d="M2,2 L6.5,7 L11,2" fill="none" stroke="#2d1f52" stroke-width="2.3" stroke-linecap="round" stroke-linejoin="round"/></svg>
<svg class="a" style="left:18px;top:764px;" width="28" height="28" viewBox="0 0 28 28"><circle cx="14" cy="14" r="13" fill="#17285c"/><circle cx="14.3" cy="13.6" r="6.4" fill="#ffffff"/><circle cx="14.3" cy="12.5" r="1.7" fill="#17285c"/><path d="M8.2,12 L9.6,12.6 L9.3,14.2 L7.9,14.6 Z M11.2,18.8 L12.2,17.6 L13.8,18.2 L13.2,19.8 Z M19.6,15.2 L18.4,14.9 L18.6,13.2 L20.2,12.8 Z" fill="#17285c"/></svg>
<div class="t" style="left:54.2px;top:768.4px;font-size:11.3px;font-weight:700;color:#147883;-webkit-text-stroke:0.25px #147883;">CAREER STATS<svg width="9" height="8" style="margin-left:3.5px;vertical-align:0;overflow:visible" viewBox="0 0 9 8"><path d="M1.2,0.4 L5.2,4 L1.2,7.6" fill="none" stroke="#147883" stroke-width="1.7" stroke-linejoin="miter"/></svg></div>
<svg class="a" style="left:394.2px;top:770.5px" width="13" height="9"><path d="M2,2 L6.5,7 L11,2" fill="none" stroke="#2d1f52" stroke-width="2.3" stroke-linecap="round" stroke-linejoin="round"/></svg>
<div class="t" style="left:54.2px;top:790.6px;font-size:10.2px;font-weight:700;color:#5d5873;">TEAM</div>
<div class="t" style="left:300.0px;top:790.6px;font-size:10.2px;font-weight:700;color:#5d5873;">APPS</div>
<div class="t" style="left:354.8px;top:790.6px;font-size:10.2px;font-weight:700;color:#5d5873;">GOALS</div>
<div class="t" style="left:54.2px;top:812.9px;font-size:11.5px;font-weight:400;color:#6a6580;transform:scaleY(1.05);transform-origin:0 9.73px;">22-24</div>
<div class="t" style="left:126.0px;top:811.6px;font-size:13px;font-weight:400;color:#3a3550;transform:scaleY(1.05);transform-origin:0 11.00px;">Bordeaux</div>
<div class="t" style="left:300.0px;top:811.6px;font-size:13px;font-weight:400;color:#1b1924;transform:scaleY(1.05);transform-origin:0 11.00px;">36</div>
<div class="t" style="left:355.0px;top:811.6px;font-size:13px;font-weight:400;color:#1b1924;transform:scaleY(1.05);transform-origin:0 11.00px;">10</div>
<div class="t" style="left:54.2px;top:837.3px;font-size:11.5px;font-weight:400;color:#6a6580;transform:scaleY(1.05);transform-origin:0 9.73px;">18-23</div>
<div class="t" style="left:126.0px;top:836.0px;font-size:13px;font-weight:400;color:#3a3550;transform:scaleY(1.05);transform-origin:0 11.00px;">Sochaux-Montbéliard</div>
<div class="t" style="left:300.0px;top:836.0px;font-size:13px;font-weight:400;color:#1b1924;transform:scaleY(1.05);transform-origin:0 11.00px;">61</div>
<div class="t" style="left:355.0px;top:836.0px;font-size:13px;font-weight:400;color:#1b1924;transform:scaleY(1.05);transform-origin:0 11.00px;">18</div>
<div class="t" style="left:54.2px;top:861.3px;font-size:11.5px;font-weight:400;color:#6a6580;transform:scaleY(1.05);transform-origin:0 9.73px;">19-21</div>
<div class="t" style="left:126.0px;top:860.0px;font-size:13px;font-weight:400;color:#3a3550;transform:scaleY(1.05);transform-origin:0 11.00px;">FCSM 2</div>
<div class="t" style="left:300.0px;top:860.0px;font-size:13px;font-weight:400;color:#1b1924;transform:scaleY(1.05);transform-origin:0 11.00px;">2</div>
<div class="t" style="left:355.0px;top:860.0px;font-size:13px;font-weight:400;color:#1b1924;transform:scaleY(1.05);transform-origin:0 11.00px;">1</div>
<svg class="a" style="left:104.5px;top:809px;" width="17" height="22" viewBox="0 0 17 22"><g transform="scale(0.53)"><path d="M0.5,3.5 Q0.5,1.8 2.5,1.5 Q15,-0.4 27.5,1.5 Q29.5,1.8 29.5,3.5 L29.5,22 Q29.5,31 15,38 Q0.5,31 0.5,22 Z" fill="#8d8d9c"/><path d="M2,4.2 Q2,3.2 3.3,3 Q15,1.3 26.7,3 Q28,3.2 28,4.2 L28,22 Q28,30 15,36.3 Q2,30 2,22 Z" fill="#2a2a50"/><rect x="6" y="5.8" width="18" height="1.5" fill="#8d8d9c" opacity="0.55"/><rect x="6" y="10.3" width="18" height="1.3" fill="#8d8d9c" opacity="0.35"/><circle cx="15.2" cy="16.3" r="1.4" fill="#8d8d9c" opacity="0.8"/><ellipse cx="15" cy="21" rx="1.8" ry="0.7" fill="#8d8d9c" opacity="0.5"/><path d="M4,22.3 L15,27.2 L26.5,22.3 L26.5,25.8 L15,34.8 L4,25.8 Z" fill="#ffffff"/></g></svg>
<svg class="a" style="left:104.5px;top:833px;" width="17" height="22" viewBox="0 0 17 22"><g transform="scale(0.53)"><path d="M0.5,3.5 Q0.5,1.8 2.5,1.5 Q15,-0.4 27.5,1.5 Q29.5,1.8 29.5,3.5 L29.5,22 Q29.5,31 15,38 Q0.5,31 0.5,22 Z" fill="#c9b57a"/><path d="M2,4.2 Q2,3.2 3.3,3 Q15,1.3 26.7,3 Q28,3.2 28,4.2 L28,22 Q28,30 15,36.3 Q2,30 2,22 Z" fill="#2c3050"/><rect x="6" y="5.8" width="18" height="1.5" fill="#c9b57a" opacity="0.55"/><rect x="6" y="10.3" width="18" height="1.3" fill="#c9b57a" opacity="0.35"/><circle cx="15.2" cy="16.3" r="1.4" fill="#c9b57a" opacity="0.8"/><ellipse cx="15" cy="21" rx="1.8" ry="0.7" fill="#c9b57a" opacity="0.5"/><path d="M4,22.3 L15,27.2 L26.5,22.3 L26.5,25.8 L15,34.8 L4,25.8 Z" fill="#c9b57a"/></g></svg>
<svg class="a" style="left:104.5px;top:857px;" width="15" height="19" viewBox="0 0 15 19"><g transform="scale(0.45)"><path d="M0.5,3.5 Q0.5,1.8 2.5,1.5 Q15,-0.4 27.5,1.5 Q29.5,1.8 29.5,3.5 L29.5,22 Q29.5,31 15,38 Q0.5,31 0.5,22 Z" fill="#c9b57a"/><path d="M2,4.2 Q2,3.2 3.3,3 Q15,1.3 26.7,3 Q28,3.2 28,4.2 L28,22 Q28,30 15,36.3 Q2,30 2,22 Z" fill="#2c3050"/><rect x="6" y="5.8" width="18" height="1.5" fill="#c9b57a" opacity="0.55"/><rect x="6" y="10.3" width="18" height="1.3" fill="#c9b57a" opacity="0.35"/><circle cx="15.2" cy="16.3" r="1.4" fill="#c9b57a" opacity="0.8"/><ellipse cx="15" cy="21" rx="1.8" ry="0.7" fill="#c9b57a" opacity="0.5"/><path d="M4,22.3 L15,27.2 L26.5,22.3 L26.5,25.8 L15,34.8 L4,25.8 Z" fill="#c9b57a"/></g></svg>
<div class="t" style="left:54.2px;top:875.1px;font-size:13px;font-weight:400;color:#111;transform:scaleY(1.05);transform-origin:0 11.00px;">Overall</div>
<div class="t" style="left:103.5px;top:875.1px;font-size:13px;font-weight:400;color:#111;transform:scaleY(1.05);transform-origin:0 11.00px;">3 Clubs</div>
<div class="t" style="left:300.0px;top:875.1px;font-size:13px;font-weight:400;color:#111;transform:scaleY(1.05);transform-origin:0 11.00px;">99</div>
<div class="t" style="left:355.0px;top:875.1px;font-size:13px;font-weight:400;color:#111;transform:scaleY(1.05);transform-origin:0 11.00px;">29</div>
<div class="r" style="left:404px;top:808px;width:5.5px;height:54px;background:#b9b9c2;border-radius:3px;"></div>
<svg class="a" style="left:456px;top:768px;" width="28" height="28" viewBox="0 0 28 28"><circle cx="14" cy="14" r="13" fill="#17285c"/><path d="M8.4,18.3 L17.7,9.7" stroke="#e6e8f4" stroke-width="3" stroke-linecap="round"/><path d="M8.9,17.8 L17.2,10.2" stroke="#3a4680" stroke-width="1" stroke-dasharray="0.8 0.8"/></svg>
<div class="t" style="left:488.5px;top:768.4px;font-size:11.3px;font-weight:700;color:#147883;-webkit-text-stroke:0.25px #147883;">CONTRACT<svg width="9" height="8" style="margin-left:3.5px;vertical-align:0;overflow:visible" viewBox="0 0 9 8"><path d="M1.2,0.4 L5.2,4 L1.2,7.6" fill="none" stroke="#147883" stroke-width="1.7" stroke-linejoin="miter"/></svg></div>
<div class="t" style="left:488.5px;top:782.0px;font-size:13.5px;font-weight:700;color:#0d0d12;">Kr 135K p/w</div>
<div class="t" style="left:488.5px;top:801.7px;font-size:11.9px;font-weight:400;color:#67637a;transform:scaleY(1.05);transform-origin:0 10.07px;">(Kr 75K p/w after tax)</div>
<div class="t" style="left:488.5px;top:818.9px;font-size:11.8px;font-weight:400;color:#67637a;transform:scaleY(1.05);transform-origin:0 9.99px;">4 Bonuses / 1 Clause</div>
<div class="t" style="left:488.5px;top:835.7px;font-size:11.9px;font-weight:400;color:#67637a;transform:scaleY(1.05);transform-origin:0 10.07px;">Expires in 3 years, 5 months&nbsp; (30/6/2027)</div>
<svg class="a" style="left:828.5px;top:770.5px" width="13" height="9"><path d="M2,2 L6.5,7 L11,2" fill="none" stroke="#2d1f52" stroke-width="2.3" stroke-linecap="round" stroke-linejoin="round"/></svg>
<svg class="a" style="left:886px;top:764px;" width="28" height="28" viewBox="0 0 28 28"><circle cx="14" cy="14" r="13" fill="#17285c"/><path d="M7.2,11.5 L11.5,7.4 L11.5,10 L16,10 L16,13.2 L11.5,13.2 L11.5,15.6 Z M22.1,15.5 L17.5,11.1 L17.5,14.4 L13,14.4 L13,16.8 L17.5,16.8 L17.5,19.9 Z" fill="#ffffff"/></svg>
<div class="t" style="left:922.5px;top:768.4px;font-size:11.3px;font-weight:700;color:#147883;-webkit-text-stroke:0.25px #147883;">TRANSFER STATUS<svg width="9" height="8" style="margin-left:3.5px;vertical-align:0;overflow:visible" viewBox="0 0 9 8"><path d="M1.2,0.4 L5.2,4 L1.2,7.6" fill="none" stroke="#147883" stroke-width="1.7" stroke-linejoin="miter"/></svg></div>
<div class="t" style="left:922.5px;top:781.8px;font-size:13.1px;font-weight:400;color:#111;transform:scaleY(1.05);transform-origin:0 11.09px;">Transfer status not set</div>
<div class="t" style="left:922.5px;top:800.8px;font-size:12px;font-weight:400;color:#67637a;transform:scaleY(1.05);transform-origin:0 10.16px;">Loan status not set</div>
<div class="t" style="left:922.5px;top:817.9px;font-size:12.2px;font-weight:400;color:#67637a;transform:scaleY(1.05);transform-origin:0 10.33px;">No instructions for the Director of Football</div>
<svg class="a" style="left:1262.2px;top:770.5px" width="13" height="9"><path d="M2,2 L6.5,7 L11,2" fill="none" stroke="#2d1f52" stroke-width="2.3" stroke-linecap="round" stroke-linejoin="round"/></svg>
<svg class="a" style="left:1325px;top:769px;" width="28" height="28" viewBox="0 0 28 28"><circle cx="14" cy="14" r="13" fill="#17285c"/><path d="M7.2,11.5 L11.5,7.4 L11.5,10 L16,10 L16,13.2 L11.5,13.2 L11.5,15.6 Z M22.1,15.5 L17.5,11.1 L17.5,14.4 L13,14.4 L13,16.8 L17.5,16.8 L17.5,19.9 Z" fill="#ffffff"/></svg>
<div class="t" style="left:1361.3px;top:773.4px;font-size:11.3px;font-weight:700;color:#594a7a;-webkit-text-stroke:0.25px #594a7a;">PROGRESS</div>
<div class="t" style="left:1133.7px;width:800px;text-align:center;top:834.8px;font-size:12px;font-weight:700;color:#f6f6f8;">N/A</div>
<svg class="a" style="left:1696.3px;top:770.5px" width="13" height="9"><path d="M2,2 L6.5,7 L11,2" fill="none" stroke="#2d1f52" stroke-width="2.3" stroke-linecap="round" stroke-linejoin="round"/></svg>
</body></html>
